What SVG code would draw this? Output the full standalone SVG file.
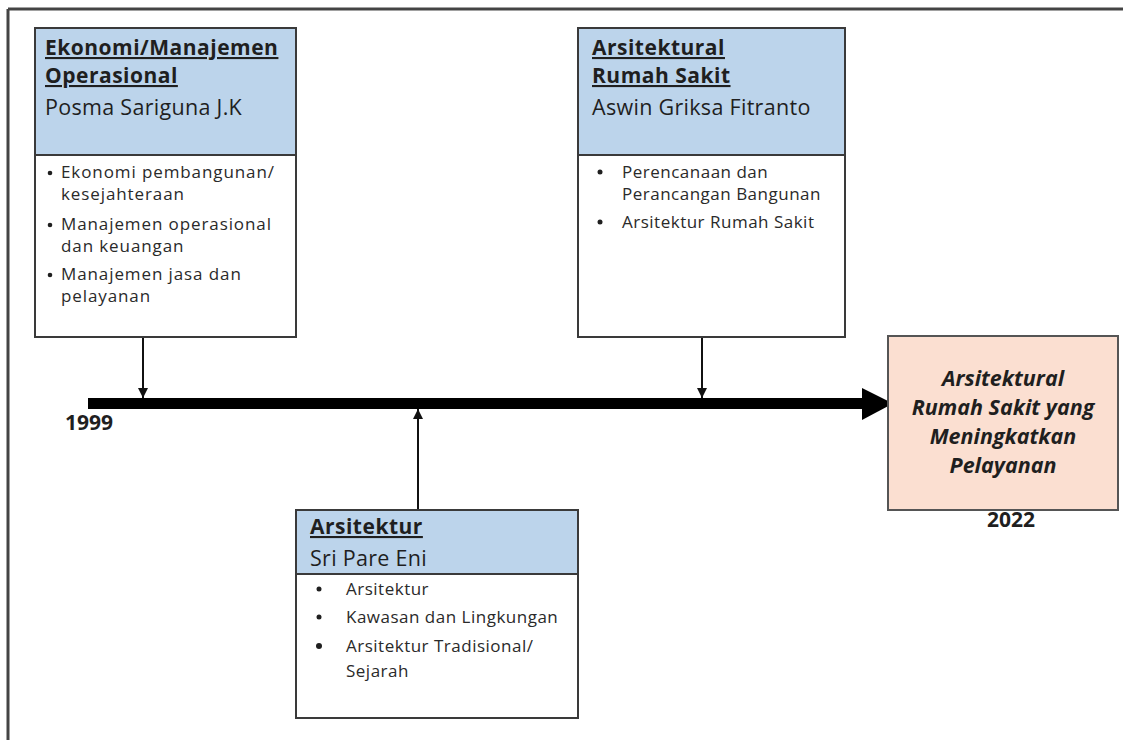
<svg xmlns="http://www.w3.org/2000/svg" width="1127" height="740" viewBox="0 0 1127 740">
  <style>
    .box { fill: #ffffff; stroke: #3a3a3a; stroke-width: 2; }
    .head { fill: #bcd4eb; }
    .goal { fill: #fbdfd1; stroke: #555555; stroke-width: 2; }
    .sep { stroke: #3a3a3a; stroke-width: 2; }
    .title { font-family: "Open Sans", "Liberation Sans", sans-serif; font-weight: bold; font-size: 21px; letter-spacing: 0.5px; fill: #1f1f1f; text-decoration: underline; }
    .name { font-family: "Open Sans", "Liberation Sans", sans-serif; font-size: 21.5px; letter-spacing: 0.3px; fill: #1f1f1f; }
    .item { font-family: "Open Sans", "Liberation Sans", sans-serif; font-size: 17px; letter-spacing: 0.5px; fill: #2a2a2a; }
    .wide { letter-spacing: 0.9px; }
    .dot { fill: #1f1f1f; }
    .year { font-family: "Open Sans", "Liberation Sans", sans-serif; font-weight: bold; font-size: 21px; fill: #1f1f1f; }
    .goaltxt { font-family: "Open Sans", "Liberation Sans", sans-serif; font-weight: bold; font-style: italic; font-size: 21.5px; fill: #1f1f1f; text-anchor: middle; }
    .conn { stroke: #111111; stroke-width: 2; fill: none; }
  </style>
  <defs>
    <marker id="tip" viewBox="0 0 10 10" refX="10" refY="5" markerWidth="5" markerHeight="5" orient="auto" markerUnits="strokeWidth">
      <path d="M0,0 L10,5 L0,10 z" fill="#111111"/>
    </marker>
  </defs>

  <rect width="1127" height="740" fill="#ffffff"/>

  <!-- page frame -->
  <g id="frame" stroke="#444444" stroke-width="3" fill="none">
    <line x1="8" y1="9" x2="1123" y2="9"/>
    <line x1="8" y1="9" x2="8" y2="740"/>
  </g>

  <!-- timeline and connectors -->
  <g id="connectors">
    <rect x="88" y="398" width="776" height="11" fill="#000000"/>
    <polygon points="862,388 893,403.5 862,420" fill="#000000"/>
    <line class="conn" x1="143" y1="337" x2="143" y2="398" marker-end="url(#tip)"/>
    <line class="conn" x1="702" y1="337" x2="702" y2="398" marker-end="url(#tip)"/>
    <line class="conn" x1="418" y1="510" x2="418" y2="409" marker-end="url(#tip)"/>
  </g>

  <g id="year-start">
    <text class="year" x="65" y="430">1999</text>
  </g>

  <!-- Ekonomi / Manajemen Operasional -->
  <g id="node-ekonomi">
    <rect class="box" x="35" y="28" width="261" height="309"/>
    <rect class="head" x="36" y="29" width="259" height="126"/>
    <line class="sep" x1="35" y1="155" x2="296" y2="155"/>
    <text class="title" x="45" y="55">Ekonomi/Manajemen</text>
    <text class="title" x="45" y="83">Operasional</text>
    <text class="name" x="45" y="115">Posma Sariguna J.K</text>
    <circle class="dot" cx="50" cy="173" r="2.3"/>
    <circle class="dot" cx="50" cy="225" r="2.3"/>
    <circle class="dot" cx="50" cy="275" r="2.3"/>
    <g class="item wide">
      <text x="61" y="178">Ekonomi pembangunan/</text>
      <text x="61" y="200">kesejahteraan</text>
      <text x="61" y="230">Manajemen operasional</text>
      <text x="61" y="252">dan keuangan</text>
      <text x="61" y="280">Manajemen jasa dan</text>
      <text x="61" y="302">pelayanan</text>
    </g>
  </g>

  <!-- Arsitektural Rumah Sakit -->
  <g id="node-rumah-sakit">
    <rect class="box" x="578" y="28" width="267" height="309"/>
    <rect class="head" x="579" y="29" width="265" height="126"/>
    <line class="sep" x1="578" y1="155" x2="845" y2="155"/>
    <text class="title" x="592" y="55">Arsitektural</text>
    <text class="title" x="592" y="83">Rumah Sakit</text>
    <text class="name" x="592" y="115">Aswin Griksa Fitranto</text>
    <circle class="dot" cx="600" cy="172" r="2.5"/>
    <circle class="dot" cx="600" cy="222" r="2.5"/>
    <g class="item">
      <text x="622" y="178">Perencanaan dan</text>
      <text x="622" y="200">Perancangan Bangunan</text>
      <text x="622" y="228">Arsitektur Rumah Sakit</text>
    </g>
  </g>

  <!-- Arsitektur -->
  <g id="node-arsitektur">
    <rect class="box" x="296" y="510" width="282" height="208"/>
    <rect class="head" x="297" y="511" width="280" height="63"/>
    <line class="sep" x1="296" y1="574" x2="578" y2="574"/>
    <text class="title" x="310" y="534">Arsitektur</text>
    <text class="name" x="310" y="566">Sri Pare Eni</text>
    <circle class="dot" cx="319" cy="589" r="2.5"/>
    <circle class="dot" cx="319" cy="617" r="2.5"/>
    <circle class="dot" cx="319" cy="646" r="3"/>
    <g class="item">
      <text x="346" y="595">Arsitektur</text>
      <text x="346" y="623">Kawasan dan Lingkungan</text>
      <text x="346" y="652">Arsitektur Tradisional/</text>
      <text x="346" y="677">Sejarah</text>
    </g>
  </g>

  <!-- outcome -->
  <g id="node-goal">
    <rect class="goal" x="888" y="336" width="230" height="174"/>
    <text class="goaltxt" x="1003" y="386">Arsitektural</text>
    <text class="goaltxt" x="1003" y="415">Rumah Sakit yang</text>
    <text class="goaltxt" x="1003" y="444">Meningkatkan</text>
    <text class="goaltxt" x="1003" y="473">Pelayanan</text>
    <text class="year" x="1011" y="527" text-anchor="middle">2022</text>
  </g>
</svg>
